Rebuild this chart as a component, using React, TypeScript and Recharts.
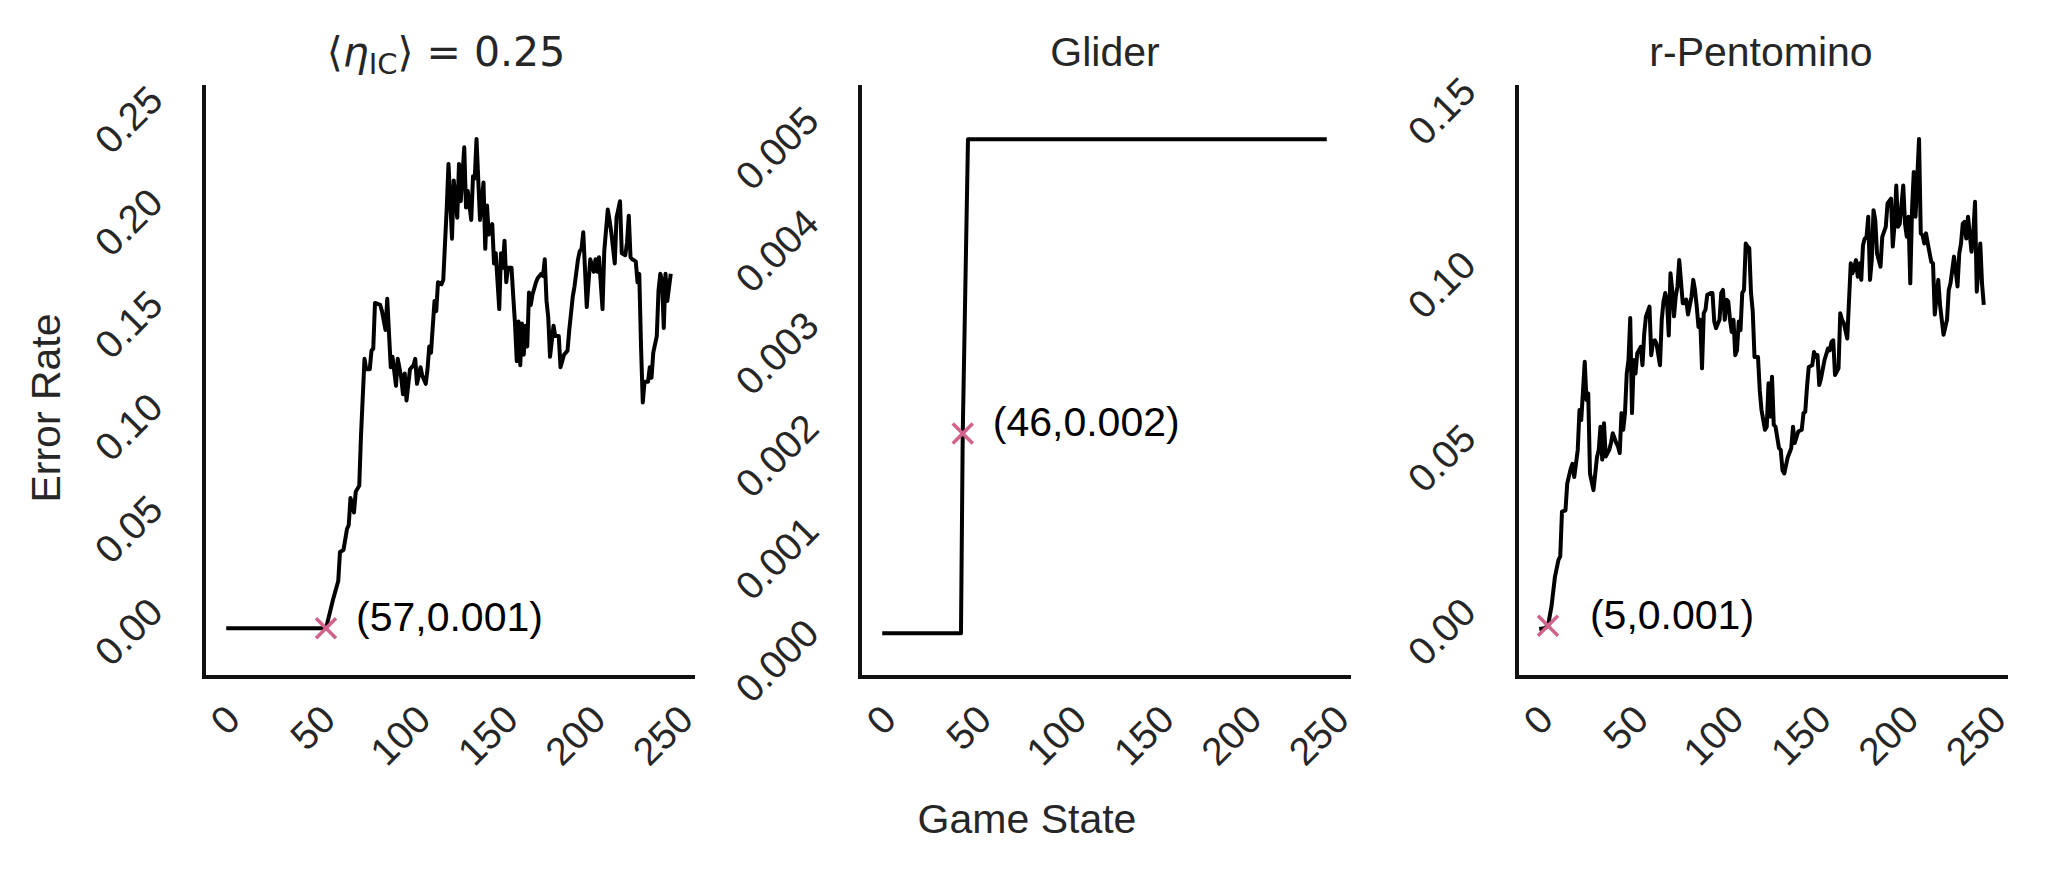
import { LineChart, Line, XAxis, YAxis, ReferenceDot } from "recharts";

// x ticks shared by the three panels
const gameStateTicks = [0, 50, 100, 150, 200, 250];

// <eta_IC> = 0.25 panel
const randomIcSteps = [
  0, 57, 61, 64, 65, 67, 69, 70, 71, 73,
  74, 76, 77, 79, 80, 82, 83, 84, 85, 88,
  89, 91, 92, 94, 95, 97, 98, 100, 101, 102,
  103, 105, 107, 108, 109, 111, 112, 114, 115, 116,
  117, 119, 120, 121, 123, 124, 126, 127, 129, 130,
  132, 133, 134, 136, 137, 138, 140, 141, 142, 143,
  145, 147, 148, 149, 150, 152, 153, 154, 156, 157,
  158, 159, 160, 161, 163, 164, 165, 166, 167, 168,
  169, 170, 171, 172, 173, 174, 175, 177, 178, 180,
  181, 182, 183, 184, 185, 187, 188, 190, 191, 193,
  195, 196, 197, 198, 199, 201, 202, 203, 204, 206,
  207, 208, 210, 211, 212, 213, 215, 216, 218, 219,
  220, 222, 223, 225, 226, 228, 229, 230, 231, 232,
  234, 235, 236, 237, 238, 239, 241, 242, 243, 244,
  246, 247, 248, 249, 250, 251, 252, 254,
];
const randomIcErrors = [
  0.0008, 0.0008, 0.0148, 0.0239, 0.0381, 0.0391, 0.0493, 0.0513, 0.0645, 0.0574,
  0.0675, 0.0705, 0.0949, 0.1324, 0.1273, 0.1273, 0.1364, 0.1374, 0.1597, 0.1587,
  0.1557, 0.1465, 0.1617, 0.1283, 0.1334, 0.1192, 0.1324, 0.1232, 0.1151, 0.1253,
  0.1121, 0.1273, 0.1293, 0.1324, 0.1202, 0.1283, 0.1242, 0.1202, 0.1273, 0.1384,
  0.1354, 0.1607, 0.1557, 0.1698, 0.1688, 0.1709, 0.2063, 0.2276, 0.1911, 0.2195,
  0.2013, 0.2276, 0.2094, 0.2357, 0.2063, 0.2144, 0.2002, 0.2215, 0.2205, 0.2398,
  0.2002, 0.2185, 0.1861, 0.2073, 0.1931, 0.1982, 0.179, 0.184, 0.1567, 0.184,
  0.1769, 0.1901, 0.1698, 0.1769, 0.1769, 0.1628, 0.1496, 0.1313, 0.1506, 0.1293,
  0.1496, 0.1344, 0.1486, 0.1384, 0.1648, 0.1587, 0.1638, 0.1698, 0.1719, 0.1739,
  0.1729, 0.181, 0.1607, 0.1526, 0.1334, 0.1486, 0.1435, 0.1435, 0.1283, 0.1344,
  0.1364, 0.1465, 0.1546, 0.1628, 0.1678, 0.181, 0.185, 0.1861, 0.1942, 0.1577,
  0.1698, 0.181, 0.1749, 0.181, 0.1749, 0.182, 0.1567, 0.185, 0.2053, 0.2002,
  0.1942, 0.179, 0.2013, 0.2094, 0.184, 0.183, 0.1891, 0.2023, 0.182, 0.181,
  0.18, 0.1698, 0.1739, 0.1384, 0.1111, 0.1212, 0.1212, 0.1283, 0.1232, 0.1354,
  0.1435, 0.1658, 0.1739, 0.1709, 0.1475, 0.1739, 0.1607, 0.1739,
];

// Glider panel
const gliderSteps = [0, 45, 46, 49, 254];
const gliderErrors = [0.00025, 0.00025, 0.0022, 0.00507, 0.00507];

// r-Pentomino panel
const pentominoSteps = [
  0, 3, 5, 7, 9, 11, 12, 13, 15, 16,
  18, 19, 20, 21, 22, 23, 24, 26, 27, 28,
  29, 31, 33, 34, 35, 36, 37, 38, 40, 41,
  42, 44, 45, 46, 47, 48, 49, 50, 51, 52,
  53, 54, 55, 56, 58, 59, 60, 61, 63, 64,
  65, 66, 67, 69, 70, 71, 72, 73, 74, 75,
  76, 77, 78, 79, 80, 82, 83, 84, 85, 87,
  88, 89, 90, 91, 92, 93, 94, 95, 96, 98,
  99, 100, 101, 103, 104, 105, 106, 107, 108, 109,
  110, 111, 112, 113, 114, 115, 116, 117, 118, 119,
  120, 121, 122, 123, 125, 126, 127, 129, 130, 131,
  132, 133, 134, 135, 137, 138, 139, 140, 142, 144,
  145, 146, 148, 150, 151, 152, 153, 154, 156, 157,
  158, 159, 160, 161, 163, 165, 166, 167, 168, 169,
  171, 172, 173, 174, 176, 178, 179, 181, 182, 183,
  184, 185, 186, 187, 188, 189, 190, 191, 192, 193,
  195, 196, 198, 199, 201, 202, 203, 204, 205, 206,
  208, 209, 210, 211, 212, 213, 214, 215, 217, 218,
  219, 220, 221, 222, 224, 225, 226, 228, 229, 231,
  233, 234, 235, 237, 239, 240, 241, 242, 243, 244,
  245, 247, 248, 249, 250, 252, 253, 254,
];
const pentominoErrors = [
  0.0003, 0.0005, 0.0012, 0.0068, 0.0154, 0.0202, 0.0212, 0.0341, 0.0345, 0.0422,
  0.0465, 0.0479, 0.0441, 0.0479, 0.0519, 0.0634, 0.0605, 0.0773, 0.0663, 0.0682,
  0.0451, 0.0403, 0.0498, 0.0519, 0.0586, 0.0491, 0.0596, 0.05, 0.0519, 0.0539,
  0.0567, 0.0539, 0.0529, 0.051, 0.0625, 0.0577, 0.0625, 0.0739, 0.0778, 0.0899,
  0.0625, 0.0778, 0.0739, 0.0797, 0.0816, 0.0763, 0.0854, 0.0904, 0.0932, 0.0792,
  0.083, 0.0835, 0.0825, 0.0763, 0.0894, 0.0947, 0.0971, 0.0947, 0.0849, 0.1028,
  0.098, 0.0904, 0.0961, 0.099, 0.1066, 0.0942, 0.0942, 0.0952, 0.0909, 0.0961,
  0.1009, 0.098, 0.0932, 0.0873, 0.0894, 0.0754, 0.0913, 0.0923, 0.0966, 0.0971,
  0.0971, 0.0889, 0.087, 0.0894, 0.0971, 0.098, 0.0894, 0.0952, 0.0947, 0.0894,
  0.0859, 0.0894, 0.0792, 0.0806, 0.0889, 0.0864, 0.0971, 0.098, 0.1114, 0.1105,
  0.1101, 0.0971, 0.0918, 0.0787, 0.0787, 0.0691, 0.0634, 0.0577, 0.0586, 0.0711,
  0.0615, 0.073, 0.0591, 0.0586, 0.0524, 0.0519, 0.046, 0.0451, 0.0498, 0.0524,
  0.0586, 0.0539, 0.0572, 0.0577, 0.0625, 0.0629, 0.0701, 0.0758, 0.0763, 0.0801,
  0.0787, 0.0792, 0.0706, 0.0725, 0.0778, 0.0811, 0.0806, 0.083, 0.0835, 0.0735,
  0.0754, 0.0913, 0.0894, 0.0885, 0.084, 0.1057, 0.1028, 0.1066, 0.1018, 0.1057,
  0.1009, 0.1109, 0.1128, 0.1133, 0.1191, 0.1009, 0.1066, 0.121, 0.1181, 0.1085,
  0.1047, 0.1133, 0.1162, 0.1229, 0.1243, 0.1105, 0.1167, 0.1281, 0.1162, 0.1171,
  0.1281, 0.1171, 0.1133, 0.1191, 0.0999, 0.121, 0.132, 0.1191, 0.1415, 0.1143,
  0.1138, 0.1114, 0.1143, 0.1114, 0.1061, 0.1057, 0.0909, 0.1009, 0.0937, 0.0851,
  0.0894, 0.098, 0.0999, 0.1076, 0.099, 0.1085, 0.1114, 0.1171, 0.1176, 0.1128,
  0.1191, 0.109, 0.1143, 0.1234, 0.0975, 0.1114, 0.0999, 0.0937,
];

const randomIcTicks = [0, 0.05, 0.1, 0.15, 0.2, 0.25];
const gliderTicks = [0, 0.001, 0.002, 0.003, 0.004, 0.005];
const pentominoTicks = [0, 0.05, 0.1, 0.15];

const markerSteps = [57, 46, 5];
const markerErrors = [0.0008, 0.0022, 0.0012];
const markerLabels = ["(57,0.001)", "(46,0.002)", "(5,0.001)"];

const SANS = "'Liberation Sans', Arial, Helvetica, sans-serif";
const TEXT = "#262626";
const PINK = "#d0628c";
const TICK_FS = 39;
const LABEL_FS = 41;
const CAP = 0.716 * TICK_FS;

const glyphW: Record<string, number> = { ".": 0.278, "-": 0.333 };
const inkLen = (s: string) =>
  s.split("").reduce((w, c) => w + (glyphW[c] ?? 0.556), 0) * TICK_FS - 0.1 * TICK_FS;

const XTick = (props: any) => {
  const { x, y, payload } = props;
  const s = String(payload.value);
  const px = x + 0.3536 * (inkLen(s) + CAP);
  const py = y + 25 + 0.7071 * CAP;
  return (
    <text x={px} y={py} textAnchor="end" fontSize={TICK_FS} fontFamily={SANS} fill={TEXT}
      transform={`rotate(-45 ${px} ${py})`}>
      {s}
    </text>
  );
};

const makeYTick = (decimals: number) => (props: any) => {
  const { x, y, payload } = props;
  const s = Number(payload.value).toFixed(decimals);
  const px = x - 39;
  const py = y - 0.3536 * (inkLen(s) - CAP);
  return (
    <text x={px} y={py} textAnchor="end" fontSize={TICK_FS} fontFamily={SANS} fill={TEXT}
      transform={`rotate(-45 ${px} ${py})`}>
      {s}
    </text>
  );
};

const crossShape = (label: string, dx: number) => (p: any) => {
  const { cx, cy } = p;
  const a = 10;
  return (
    <g>
      <line x1={cx - a} y1={cy - a} x2={cx + a} y2={cy + a} stroke={PINK} strokeWidth={3.5} />
      <line x1={cx - a} y1={cy + a} x2={cx + a} y2={cy - a} stroke={PINK} strokeWidth={3.5} />
      <text x={cx + dx} y={cy + 3} fontSize={LABEL_FS} fontFamily={SANS} fill="#000">{label}</text>
    </g>
  );
};

type PanelProps = {
  spineX: number;
  steps: number[];
  errors: number[];
  yDomain: [number, number];
  yTicks: number[];
  decimals: number;
  mark: number;
  labelDx: number;
};

const AXIS_W = 200;
const PLOT_W = 489;

const Panel = ({ spineX, steps, errors, yDomain, yTicks, decimals, mark, labelDx }: PanelProps) => {
  const rows = steps.map((s, i) => ({ step: s, err: errors[i] }));
  const spine = { stroke: "#111", strokeWidth: 4, strokeLinecap: "square" as const };
  return (
    <div style={{ position: "absolute", left: spineX - AXIS_W, top: 0 }}>
      <LineChart width={AXIS_W + PLOT_W + 20} height={871} data={rows}
        margin={{ top: 87, right: 20, bottom: 94, left: 0 }}>
        <XAxis dataKey="step" type="number" domain={[-12.7, 266.7]} allowDataOverflow
          ticks={gameStateTicks} interval={0} height={100} tickLine={false} tickSize={0}
          tickMargin={0} axisLine={spine} tick={XTick} />
        <YAxis type="number" domain={yDomain} allowDataOverflow ticks={yTicks} interval={0}
          width={AXIS_W} tickLine={false} tickSize={0} tickMargin={0} axisLine={spine}
          tick={makeYTick(decimals)} />
        <Line type="linear" dataKey="err" stroke="#000" strokeWidth={4} strokeLinejoin="round"
          dot={false} activeDot={false} isAnimationActive={false} />
        <ReferenceDot x={markerSteps[mark]} y={markerErrors[mark]} r={10} ifOverflow="visible"
          shape={crossShape(markerLabels[mark], labelDx)} />
      </LineChart>
    </div>
  );
};

export default function App() {
  return (
    <div style={{ position: "absolute", left: 0, top: 0, width: 2054, height: 871, background: "#fff", overflow: "hidden" }}>
      <Panel spineX={204} steps={randomIcSteps} errors={randomIcErrors}
        yDomain={[-0.02295, 0.26514]} yTicks={randomIcTicks} decimals={2} mark={0} labelDx={30} />
      <Panel spineX={860} steps={gliderSteps} errors={gliderErrors}
        yDomain={[-0.000176, 0.00558]} yTicks={gliderTicks} decimals={3} mark={1} labelDx={30} />
      <Panel spineX={1517} steps={pentominoSteps} errors={pentominoErrors}
        yDomain={[-0.013545, 0.156484]} yTicks={pentominoTicks} decimals={2} mark={2} labelDx={42} />
      <svg width={2054} height={871} style={{ position: "absolute", left: 0, top: 0, pointerEvents: "none" }}>
        <text x={446} y={66} textAnchor="middle" fontSize={LABEL_FS} fontFamily="'DejaVu Sans', sans-serif" fill={TEXT}>
          <tspan>⟨</tspan>
          <tspan fontStyle="italic">η</tspan>
          <tspan fontSize={29} dy={8}>IC</tspan>
          <tspan dy={-8}>⟩ = 0.25</tspan>
        </text>
        <text x={1105} y={66} textAnchor="middle" fontSize={LABEL_FS} fontFamily={SANS} fill={TEXT}>Glider</text>
        <text x={1761} y={66} textAnchor="middle" fontSize={LABEL_FS} fontFamily={SANS} fill={TEXT}>r-Pentomino</text>
        <text x={60} y={408} textAnchor="middle" fontSize={LABEL_FS} fontFamily={SANS} fill={TEXT}
          transform="rotate(-90 60 408)">Error Rate</text>
        <text x={1027} y={833} textAnchor="middle" fontSize={LABEL_FS} fontFamily={SANS} fill={TEXT}>Game State</text>
      </svg>
    </div>
  );
}
